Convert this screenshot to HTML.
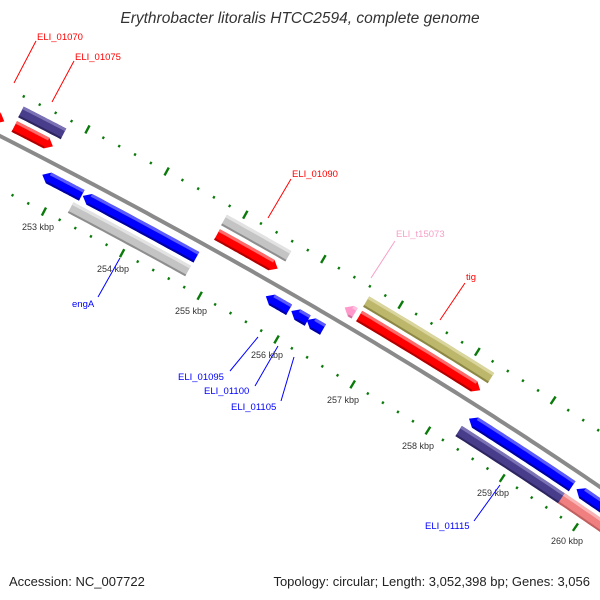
<!DOCTYPE html>
<html><head><meta charset="utf-8"><style>
html,body{margin:0;padding:0;background:#fff;}
svg{display:block;}
text{font-family:"Liberation Sans",sans-serif;}
</style></head><body>
<svg id="s" width="600" height="600" viewBox="0 0 600 600" xmlns="http://www.w3.org/2000/svg">
<rect width="600" height="600" fill="#fff"/>
<g id="ticks"></g>
<path id="bb" d="M0,136 Q343,311 600,487" fill="none" stroke="#8a8a8a" stroke-width="4"/>
<g id="feat"></g>
<g stroke-width="1" fill="none">
<line x1="36" y1="41" x2="14" y2="83" stroke="#f00"/>
<line x1="74" y1="61" x2="52" y2="102" stroke="#f00"/>
<line x1="291" y1="179" x2="268" y2="218" stroke="#f00"/>
<line x1="395" y1="241" x2="371" y2="278" stroke="#f7a0c8"/>
<line x1="465" y1="283" x2="440" y2="320" stroke="#f00"/>
<line x1="98" y1="297" x2="120" y2="258" stroke="#00f"/>
<line x1="230" y1="371" x2="258" y2="337" stroke="#00f"/>
<line x1="255" y1="386" x2="278" y2="346" stroke="#00f"/>
<line x1="281" y1="401" x2="294" y2="357" stroke="#00f"/>
<line x1="474" y1="521" x2="500" y2="485" stroke="#00f"/>
</g>
<g font-size="9.5">
<text x="37" y="40" fill="#f00">ELI_01070</text>
<text x="75" y="60" fill="#f00">ELI_01075</text>
<text x="292" y="177" fill="#f00">ELI_01090</text>
<text x="396" y="237" fill="#f7a0c8">ELI_t15073</text>
<text x="466" y="280" fill="#f00">tig</text>
<text x="72" y="307" fill="#00f">engA</text>
<text x="178" y="380" fill="#00f">ELI_01095</text>
<text x="204" y="394" fill="#00f">ELI_01100</text>
<text x="231" y="410" fill="#00f">ELI_01105</text>
<text x="425" y="529" fill="#00f">ELI_01115</text>
</g>
<g font-size="9" fill="#333" text-anchor="middle">
<text x="38" y="230">253 kbp</text>
<text x="113" y="272">254 kbp</text>
<text x="191" y="314">255 kbp</text>
<text x="267" y="358">256 kbp</text>
<text x="343" y="403">257 kbp</text>
<text x="418" y="449">258 kbp</text>
<text x="493" y="496">259 kbp</text>
<text x="567" y="544">260 kbp</text>
</g>
<text x="300" y="23" font-size="15.5" font-style="italic" fill="#333" text-anchor="middle">Erythrobacter litoralis HTCC2594, complete genome</text>
<text x="9" y="586" font-size="13" fill="#222">Accession: NC_007722</text>
<text x="590" y="586" font-size="13" fill="#222" text-anchor="end">Topology: circular; Length: 3,052,398 bp; Genes: 3,056</text>
</svg>
<script>
(function(){
var P0=[0,136],C=[343,311],P2=[600,487];
function B(t){var a=(1-t)*(1-t),b=2*t*(1-t),c=t*t;return [a*P0[0]+b*C[0]+c*P2[0],a*P0[1]+b*C[1]+c*P2[1]];}
function D(t){return [2*(1-t)*(C[0]-P0[0])+2*t*(P2[0]-C[0]),2*(1-t)*(C[1]-P0[1])+2*t*(P2[1]-C[1])];}
function N(t){var d=D(t),l=Math.hypot(d[0],d[1]);return [d[1]/l,-d[0]/l];}
function Pt(t,o){var b=B(t),n=N(t);return [b[0]+o*n[0],b[1]+o*n[1]];}
function proj(x,y){var bt=0,bd=1e9;for(var t=-0.25;t<=1.25;t+=0.0004){var b=B(t),d=(b[0]-x)*(b[0]-x)+(b[1]-y)*(b[1]-y);if(d<bd){bd=d;bt=t;}}return bt;}
var T=[],S=[],s=0,prev=B(-0.3);
for(var t=-0.3;t<=1.3;t+=0.001){var b=B(t);s+=Math.hypot(b[0]-prev[0],b[1]-prev[1]);prev=b;T.push(t);S.push(s);}
function sAt(t){var i=Math.round((t+0.3)/0.001);i=Math.max(0,Math.min(S.length-1,i));return S[i];}
function tAt(v){for(var i=1;i<S.length;i++){if(S[i]>=v){var f=(v-S[i-1])/(S[i]-S[i-1]);return T[i-1]+f*0.001;}}return T[T.length-1];}
var NS="http://www.w3.org/2000/svg";
var tk=document.getElementById("ticks"),fg=document.getElementById("feat");
function el(p,tag,at){var e=document.createElementNS(NS,tag);for(var k in at)e.setAttribute(k,at[k]);p.appendChild(e);return e;}
// backbone extended
var bp=[];for(var t2=-0.1;t2<=1.1;t2+=0.01){bp.push(B(t2));}
document.getElementById("bb").setAttribute("d","M"+bp.map(function(p){return p[0].toFixed(1)+","+p[1].toFixed(1);}).join(" L"));
function ticks(p1,p2,off){
 var sa=sAt(proj(p1[0],p1[1])),sb=sAt(proj(p2[0],p2[1])),st=(sb-sa)/7/5;
 for(var k=-20;k<60;k++){var v=sa+k*st,t=tAt(v);var c=B(t);if(c[0]<-10||c[0]>610)continue;
  var maj=(k%5===0),h=maj?4.5:1.3;var a=Pt(t,off-h),b=Pt(t,off+h);
  el(tk,"line",{x1:a[0],y1:a[1],x2:b[0],y2:b[1],stroke:"#0a7a0a","stroke-width":maj?2.4:2.2});}
}
ticks([8,88],[552,402],46);
ticks([44,212],[576,527],-47);
function ptsStr(a){return a.map(function(p){return p[0].toFixed(1)+","+p[1].toFixed(1);}).join(" ");}
function band(t1,t2,d1,d2){var r=[],n=24,i;for(i=0;i<=n;i++)r.push(Pt(t1+(t2-t1)*i/n,d2));for(i=n;i>=0;i--)r.push(Pt(t1+(t2-t1)*i/n,d1));return r;}
function feat(a,b,d1,d2,col,lt,dk,arrow){
 var t1=proj(a[0],a[1]),t2=proj(b[0],b[1]);
 var L=7,dt=L/Math.hypot(D(t2)[0],D(t2)[1]);
 var b1=t1,b2=t2;if(arrow===1)b2=t2-dt;if(arrow===-1)b1=t1+dt;
 if(b2<b1){b2=b1=(t1+t2)/2;}
 var pts=[],n=24,i;
 if(arrow===-1)pts.push(Pt(t1,(d1+d2)/2));
 for(i=0;i<=n;i++)pts.push(Pt(b1+(b2-b1)*i/n,d2));
 if(arrow===1)pts.push(Pt(t2,(d1+d2)/2));
 for(i=n;i>=0;i--)pts.push(Pt(b1+(b2-b1)*i/n,d1));
 el(fg,"polygon",{points:ptsStr(pts),fill:col});
 el(fg,"polygon",{points:ptsStr(band(b1,b2,d2-3,d2)),fill:lt});
 el(fg,"polygon",{points:ptsStr(band(b1,b2,d1,d1+2)),fill:dk});
}
var R1=[9,21],R2=[25,37],M1=[-21,-9],M2=[-37,-25];
var red=["#ff0000","#ff6a6a","#b00000"],blue=["#0000ff","#5a5aff","#0000a0"],pur=["#483d8b","#7b72b5","#2c2560"],gry=["#c4c4c4","#e2e2e2","#8e8e8e"],kha=["#bdb76b","#d9d59c","#8c8745"],pnk=["#f08080","#f8b4b4","#c06060"];
function F(a,b,r,c,ar){feat(a,b,r[0],r[1],c[0],c[1],c[2],ar);}
F([-60,90],[4,122],R1,red,1);
F([14,127],[52,148],R1,red,1);
F([216,236],[277,270],R1,red,1);
F([358,318],[479,392],R1,red,1);
F([22,110],[63,135],R2,pur,0);
F([225,218],[288,257],R2,gry,0);
F([367,300],[491,378],R2,kha,0);
F([343,310],[353,316],R1,["#ff99cc","#ffc0dd","#d070a0"],-1);
F([43,173],[82,195],M1,blue,-1);
F([84,194],[196,258],M1,blue,-1);
F([266,296],[289,310],M1,blue,-1);
F([292,310],[307,322],M1,blue,-1);
F([308,318],[322,331],M1,blue,-1);
F([470,417],[573,485],M1,blue,-1);
F([576,490],[640,535],M1,blue,-1);
F([71,207],[187,273],M2,gry,0);
F([458,432],[565,500],M2,pur,0);
F([562,497],[650,560],M2,pnk,0);
})();
</script>
</body></html>
